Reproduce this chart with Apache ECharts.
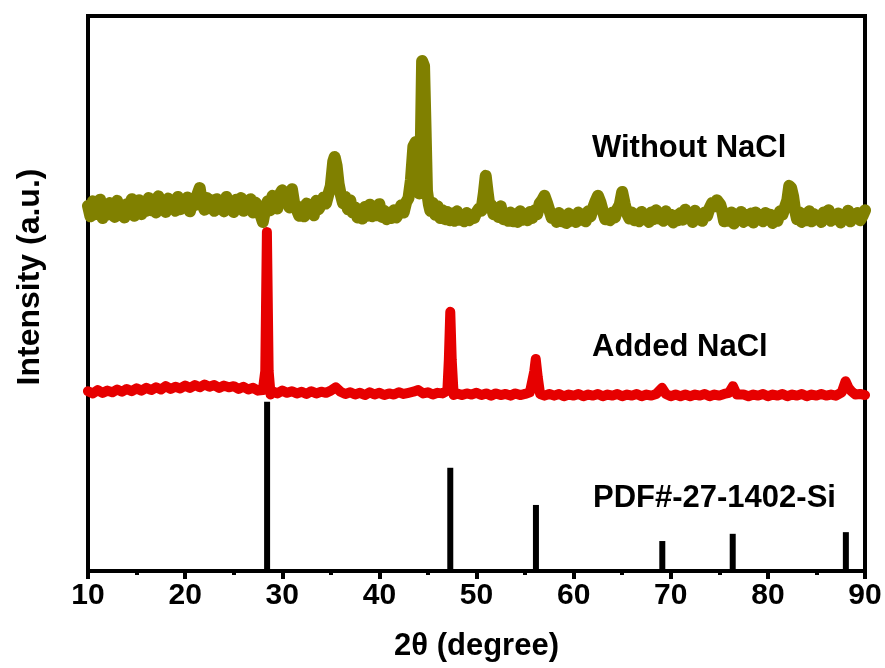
<!DOCTYPE html>
<html>
<head>
<meta charset="utf-8">
<script src="https://cdn.jsdelivr.net/npm/echarts@6/dist/echarts.min.js"></script>
<style>
  html, body { margin: 0; padding: 0; background: #fff; }
  #main { width: 885px; height: 668px; }
</style>
</head>
<body>
<div id="main"></div>
<script>
// 2θ 范围和刻度
const xTicks = [10, 20, 30, 40, 50, 60, 70, 80, 90];

// Without NaCl (橄榄色)
const withoutNaCl = [
  [10.00, 65.8], [10.25, 63.9], [10.50, 66.6], [10.75, 64.3], [11.00, 65.1], [11.25, 66.9], [11.50, 63.6], [11.75, 65.4],
  [12.00, 64.2], [12.25, 66.3], [12.50, 65.0], [12.75, 63.8], [13.00, 66.7], [13.25, 64.5], [13.50, 65.9], [13.75, 63.7],
  [14.00, 66.1], [14.25, 64.8], [14.50, 67.0], [14.75, 64.0], [15.00, 65.6], [15.25, 66.8], [15.50, 64.3], [15.75, 66.2],
  [16.00, 64.9], [16.25, 67.2], [16.50, 65.0], [16.75, 66.4], [17.00, 64.6], [17.25, 67.5], [17.50, 65.3], [17.75, 66.0],
  [18.00, 64.7], [18.25, 67.1], [18.50, 65.5], [18.75, 66.6], [19.00, 64.9], [19.25, 67.4], [19.50, 65.2], [19.75, 66.9],
  [20.00, 65.6], [20.25, 67.3], [20.50, 64.8], [20.75, 66.5], [21.00, 65.9], [21.25, 67.8], [21.50, 69.0], [21.75, 66.2],
  [22.00, 65.1], [22.25, 67.2], [22.50, 65.7], [22.75, 66.8], [23.00, 64.9], [23.25, 67.0], [23.50, 65.4], [23.75, 66.3],
  [24.00, 64.8], [24.25, 67.4], [24.50, 65.6], [24.75, 66.1], [25.00, 64.7], [25.25, 66.9], [25.50, 65.3], [25.75, 67.2],
  [26.00, 64.9], [26.25, 66.5], [26.50, 65.8], [26.75, 67.0], [27.00, 64.6], [27.25, 66.4], [27.50, 65.5], [27.75, 64.3],
  [28.00, 62.9], [28.25, 65.2], [28.50, 66.6], [28.75, 65.0], [29.00, 67.6], [29.25, 66.1], [29.50, 65.3], [29.75, 67.9],
  [30.00, 68.6], [30.25, 66.4], [30.50, 67.3], [30.75, 65.5], [31.00, 68.8], [31.25, 66.0], [31.50, 65.1], [31.75, 64.0],
  [32.00, 65.6], [32.25, 63.9], [32.50, 66.2], [32.75, 64.5], [33.00, 65.3], [33.25, 64.1], [33.50, 66.7], [33.75, 65.2],
  [34.00, 66.0], [34.25, 67.3], [34.50, 66.2], [34.75, 67.9], [35.00, 69.4], [35.25, 73.8], [35.40, 74.6], [35.60, 73.0],
  [35.80, 69.8], [36.00, 68.0], [36.25, 66.3], [36.50, 67.4], [36.75, 65.2], [37.00, 66.8], [37.25, 64.6], [37.50, 65.5],
  [37.75, 63.7], [38.00, 64.8], [38.25, 63.5], [38.50, 65.6], [38.75, 64.0], [39.00, 66.0], [39.25, 63.9], [39.50, 65.2],
  [39.75, 64.1], [40.00, 66.1], [40.25, 63.8], [40.50, 64.9], [40.75, 63.4], [41.00, 64.3], [41.25, 63.6], [41.50, 65.0],
  [41.75, 63.7], [42.00, 64.5], [42.25, 65.9], [42.50, 64.6], [42.75, 66.4], [43.00, 67.2], [43.25, 70.5], [43.50, 76.5],
  [43.75, 77.3], [43.95, 72.0], [44.10, 68.0], [44.25, 75.0], [44.40, 91.9], [44.60, 91.0], [44.75, 80.0], [44.90, 68.5],
  [45.10, 66.0], [45.25, 64.9], [45.50, 66.3], [45.75, 64.2], [46.00, 65.7], [46.25, 63.6], [46.50, 65.0], [46.75, 63.4],
  [47.00, 64.7], [47.25, 63.2], [47.50, 64.4], [47.75, 63.1], [48.00, 64.8], [48.25, 63.3], [48.50, 64.0], [48.75, 63.0],
  [49.00, 64.5], [49.25, 63.2], [49.50, 64.1], [49.75, 63.6], [50.00, 64.6], [50.25, 65.3], [50.50, 64.9], [50.75, 68.0],
  [50.95, 71.2], [51.15, 68.2], [51.35, 65.5], [51.50, 66.0], [51.75, 64.3], [52.00, 65.1], [52.25, 63.8], [52.50, 65.7],
  [52.75, 63.4], [53.00, 64.3], [53.25, 63.1], [53.50, 64.6], [53.75, 63.0], [54.00, 64.2], [54.25, 62.9], [54.50, 64.8],
  [54.75, 63.3], [55.00, 64.0], [55.25, 63.2], [55.50, 64.7], [55.75, 63.6], [56.00, 65.0], [56.25, 64.3], [56.50, 66.2],
  [56.75, 66.8], [57.00, 67.6], [57.25, 66.4], [57.50, 65.0], [57.75, 63.6], [58.00, 64.2], [58.25, 62.9], [58.50, 64.5],
  [58.75, 63.0], [59.00, 63.7], [59.25, 62.7], [59.50, 64.4], [59.75, 63.1], [60.00, 64.0], [60.25, 62.9], [60.50, 64.6],
  [60.75, 63.3], [61.00, 63.9], [61.25, 63.0], [61.50, 64.8], [61.75, 63.9], [62.00, 65.4], [62.25, 66.6], [62.50, 67.6],
  [62.75, 66.5], [63.00, 64.9], [63.25, 63.4], [63.50, 64.2], [63.75, 63.2], [64.00, 64.6], [64.25, 63.7], [64.50, 65.2],
  [64.75, 66.0], [65.00, 68.3], [65.25, 66.2], [65.50, 64.4], [65.75, 63.5], [66.00, 64.6], [66.25, 63.2], [66.50, 64.1],
  [66.75, 63.0], [67.00, 64.7], [67.25, 63.4], [67.50, 64.0], [67.75, 62.9], [68.00, 64.6], [68.25, 63.4], [68.50, 65.0],
  [68.75, 63.5], [69.00, 64.3], [69.25, 63.1], [69.50, 64.8], [69.75, 63.6], [70.00, 64.2], [70.25, 62.8], [70.50, 64.0],
  [70.75, 63.2], [71.00, 64.5], [71.25, 63.3], [71.50, 65.1], [71.75, 63.7], [72.00, 64.3], [72.25, 62.9], [72.50, 64.9],
  [72.75, 63.4], [73.00, 64.0], [73.25, 63.1], [73.50, 64.6], [73.75, 64.0], [74.00, 65.4], [74.25, 66.3], [74.50, 65.7],
  [74.75, 66.8], [74.90, 67.0], [75.10, 66.0], [75.30, 64.8], [75.50, 63.0], [75.75, 64.4], [76.00, 63.1], [76.25, 64.6],
  [76.50, 62.6], [76.75, 64.0], [77.00, 63.3], [77.25, 64.7], [77.50, 62.9], [77.75, 64.2], [78.00, 63.2], [78.25, 64.4],
  [78.50, 62.8], [78.75, 64.6], [79.00, 63.4], [79.25, 64.1], [79.50, 63.0], [79.75, 64.5], [80.00, 63.3], [80.25, 64.2],
  [80.50, 62.7], [80.75, 64.0], [81.00, 63.1], [81.25, 64.8], [81.50, 64.2], [81.75, 65.5], [82.00, 66.8], [82.20, 69.4],
  [82.40, 69.0], [82.60, 67.5], [82.80, 65.0], [83.00, 63.4], [83.25, 64.6], [83.50, 62.9], [83.75, 64.1], [84.00, 63.2],
  [84.25, 64.8], [84.50, 63.0], [84.75, 64.3], [85.00, 63.4], [85.25, 64.0], [85.50, 62.9], [85.75, 64.6], [86.00, 63.5],
  [86.25, 65.0], [86.50, 63.1], [86.75, 64.2], [87.00, 63.6], [87.25, 64.4], [87.50, 62.8], [87.75, 64.1], [88.00, 63.4],
  [88.25, 64.9], [88.50, 63.0], [88.75, 64.3], [89.00, 63.6], [89.25, 64.5], [89.50, 63.2], [89.75, 64.0], [90.00, 65.0]
];

// Added NaCl (红色)
const addedNaCl = [
  [10.0, 32.4], [10.5, 32.0], [11.0, 32.6], [11.5, 32.1], [12.0, 32.5], [12.5, 32.2], [13.0, 32.7], [13.5, 32.3],
  [14.0, 32.8], [14.5, 32.4], [15.0, 32.9], [15.5, 32.5], [16.0, 33.0], [16.5, 32.6], [17.0, 33.1], [17.5, 32.7],
  [18.0, 33.3], [18.5, 32.8], [19.0, 33.2], [19.5, 32.9], [20.0, 33.4], [20.5, 33.0], [21.0, 33.5], [21.5, 33.1],
  [22.0, 33.6], [22.5, 33.2], [23.0, 33.5], [23.5, 33.0], [24.0, 33.4], [24.5, 33.1], [25.0, 33.3], [25.5, 32.8],
  [26.0, 33.2], [26.5, 32.7], [27.0, 33.0], [27.5, 32.5], [28.0, 32.6], [28.25, 36.0], [28.42, 61.1], [28.6, 36.0],
  [28.8, 31.8], [29.0, 32.4], [29.5, 32.0], [30.0, 32.5], [30.5, 32.1], [31.0, 32.4], [31.5, 32.0], [32.0, 32.3],
  [32.5, 31.9], [33.0, 32.4], [33.5, 32.0], [34.0, 32.3], [34.5, 32.1], [35.0, 32.5], [35.5, 33.1], [36.0, 32.3],
  [36.5, 31.9], [37.0, 32.2], [37.5, 31.8], [38.0, 32.1], [38.5, 31.7], [39.0, 32.2], [39.5, 31.8], [40.0, 32.1],
  [40.5, 31.7], [41.0, 32.0], [41.5, 31.8], [42.0, 32.2], [42.5, 31.9], [43.0, 32.1], [43.5, 32.3], [44.0, 32.6],
  [44.5, 32.0], [45.0, 32.2], [45.5, 31.8], [46.0, 32.1], [46.5, 32.0], [47.0, 32.5], [47.15, 38.0], [47.3, 46.7],
  [47.45, 38.0], [47.65, 31.7], [48.0, 32.0], [48.5, 31.7], [49.0, 32.0], [49.5, 31.8], [50.0, 32.1], [50.5, 31.7],
  [51.0, 32.0], [51.5, 31.6], [52.0, 32.0], [52.5, 31.7], [53.0, 31.9], [53.5, 31.6], [54.0, 32.0], [54.5, 31.7],
  [55.0, 31.9], [55.5, 32.2], [55.95, 36.0], [56.1, 38.2], [56.3, 35.0], [56.55, 31.9], [57.0, 31.6], [57.5, 31.9],
  [58.0, 31.6], [58.5, 31.9], [59.0, 31.5], [59.5, 31.8], [60.0, 31.6], [60.5, 31.9], [61.0, 31.5], [61.5, 31.8],
  [62.0, 31.6], [62.5, 31.9], [63.0, 31.5], [63.5, 31.8], [64.0, 31.6], [64.5, 31.9], [65.0, 31.5], [65.5, 31.8],
  [66.0, 31.6], [66.5, 31.9], [67.0, 31.5], [67.5, 31.8], [68.0, 31.6], [68.5, 31.9], [69.1, 33.0], [69.5, 31.9],
  [70.0, 31.5], [70.5, 31.8], [71.0, 31.5], [71.5, 31.8], [72.0, 31.5], [72.5, 31.8], [73.0, 31.6], [73.5, 31.9],
  [74.0, 31.5], [74.5, 31.8], [75.0, 31.6], [75.5, 31.9], [76.0, 32.1], [76.4, 33.3], [76.8, 31.8], [77.0, 31.5],
  [77.5, 31.8], [78.0, 31.5], [78.5, 31.8], [79.0, 31.6], [79.5, 31.9], [80.0, 31.5], [80.5, 31.8], [81.0, 31.6],
  [81.5, 31.9], [82.0, 31.5], [82.5, 31.8], [83.0, 31.6], [83.5, 31.9], [84.0, 31.5], [84.5, 31.8], [85.0, 31.6],
  [85.5, 31.9], [86.0, 31.6], [86.5, 31.8], [87.0, 31.6], [87.6, 32.2], [88.0, 34.2], [88.3, 33.0], [88.6, 32.4],
  [89.0, 31.8], [89.5, 31.9], [90.0, 31.7]
];

// PDF#-27-1402 Si 标准峰
const pdfPeaks = [
  [28.44, 30.5], [47.30, 18.6], [56.12, 11.9], [69.13, 5.4], [76.38, 6.7], [88.03, 7.0]
];

const seriesLabels = ['Without NaCl', 'Added NaCl', 'PDF#-27-1402-Si'];

let myChart = echarts.init(document.getElementById('main'));
const fontFam = 'Liberation Sans, Arial, sans-serif';

let option = {
  animation: false,
  grid: {
    left: 88,
    right: 20,
    top: 16,
    bottom: 97,
    show: true,
    borderColor: '#000',
    borderWidth: 4,
    backgroundColor: 'transparent'
  },
  xAxis: {
    type: 'value',
    min: xTicks[0],
    max: xTicks[xTicks.length - 1],
    interval: 10,
    name: '2θ (degree)',
    nameLocation: 'middle',
    nameGap: 60,
    nameTextStyle: { color: '#000', fontSize: 31, fontWeight: 'bold', fontFamily: fontFam },
    axisLine: { show: true, lineStyle: { color: '#000', width: 4 } },
    axisTick: { show: true, inside: false, length: 8, lineStyle: { color: '#000', width: 4 } },
    minorTick: { show: true, splitNumber: 2, length: 4, lineStyle: { color: '#000', width: 4 } },
    axisLabel: { color: '#000', fontSize: 30, fontWeight: 'bold', fontFamily: fontFam, margin: 10 },
    splitLine: { show: false }
  },
  yAxis: {
    type: 'value',
    min: 0,
    max: 100,
    axisLine: { show: true, lineStyle: { color: '#000', width: 4 } },
    axisTick: { show: false },
    axisLabel: { show: false },
    splitLine: { show: false }
  },
  graphic: [
    {
      type: 'text',
      x: 30, y: 277,
      rotation: Math.PI / 2,
      style: {
        text: 'Intensity (a.u.)', fill: '#000', fontSize: 32, fontWeight: 'bold', fontFamily: fontFam,
        align: 'center', verticalAlign: 'middle'
      }
    },
    {
      type: 'text', x: 592, y: 148,
      style: { text: seriesLabels[0], fill: '#000', fontSize: 31, fontWeight: 'bold', fontFamily: fontFam, verticalAlign: 'middle' }
    },
    {
      type: 'text', x: 592, y: 347,
      style: { text: seriesLabels[1], fill: '#000', fontSize: 31, fontWeight: 'bold', fontFamily: fontFam, verticalAlign: 'middle' }
    },
    {
      type: 'text', x: 593, y: 498,
      style: { text: seriesLabels[2], fill: '#000', fontSize: 31, fontWeight: 'bold', fontFamily: fontFam, verticalAlign: 'middle' }
    }
  ],
  series: [
    {
      name: seriesLabels[2],
      type: 'bar',
      barWidth: 6,
      data: pdfPeaks,
      itemStyle: { color: '#000' }
    },
    {
      name: seriesLabels[1],
      type: 'line',
      data: addedNaCl,
      showSymbol: false,
      clip: true,
      lineStyle: { color: '#e60000', width: 10, cap: 'round', join: 'round' }
    },
    {
      name: seriesLabels[0],
      type: 'line',
      data: withoutNaCl,
      showSymbol: false,
      clip: true,
      lineStyle: { color: '#808000', width: 12, cap: 'round', join: 'round' }
    }
  ]
};

myChart.setOption(option);
</script>
</body>
</html>
